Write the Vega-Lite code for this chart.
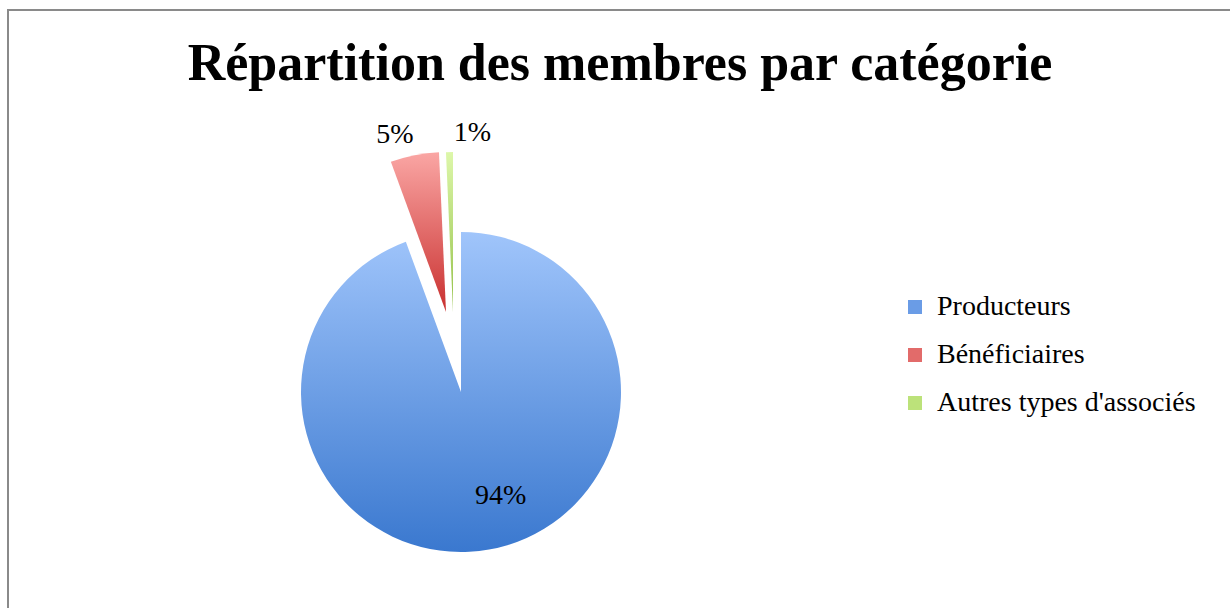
{
  "$schema": "https://vega.github.io/schema/vega-lite/v6.json",
  "autosize": "none",
  "width": 1232,
  "height": 602,
  "padding": {"left": 8, "top": 10, "right": 0, "bottom": 0},
  "background": "white",
  "view": {"stroke": "#8a8a8a", "strokeWidth": 2, "fill": "white"},
  "config": {"view": {"stroke": "#8a8a8a", "strokeWidth": 2}},
  "title": {
    "text": "Répartition des membres par catégorie",
    "font": "Liberation Serif",
    "fontSize": 52,
    "fontWeight": "bold",
    "color": "#000000",
    "anchor": "middle",
    "frame": "group",
    "offset": -81,
    "dx": -4
  },
  "data": {
    "values": [
      {"cat": "Producteurs", "pct": 0.944},
      {"cat": "Bénéficiaires", "pct": 0.049},
      {"cat": "Autres types d'associés", "pct": 0.007}
    ]
  },
  "encoding": {
    "theta": {"field": "pct", "type": "quantitative", "stack": true},
    "order": {"field": "pct", "type": "quantitative", "sort": "descending"}
  },
  "layer": [
    {
      "mark": {"type": "arc", "x": 453, "y": 382, "radius": 160, "opacity": 0},
      "encoding": {
        "color": {
          "field": "cat",
          "type": "nominal",
          "scale": {
            "domain": ["Producteurs", "Bénéficiaires", "Autres types d'associés"],
            "range": ["#6A9CE6", "#E26B6A", "#BCE27A"]
          },
          "legend": {
            "title": null,
            "orient": "none",
            "legendX": 893,
            "legendY": 283,
            "padding": 0,
            "symbolType": "square",
            "symbolSize": 196,
            "symbolStrokeWidth": 0,
            "symbolOpacity": 1,
            "labelFont": "Liberation Serif",
            "labelFontSize": 28,
            "labelColor": "#000000",
            "labelOffset": 8,
            "rowPadding": 20,
            "labelLimit": 400
          }
        }
      }
    },
    {
      "mark": {"type": "arc", "x": 453, "y": 382, "radius": 160,
        "fill": {"gradient": "linear", "x1": 0, "y1": 0, "x2": 0, "y2": 1, "stops": [{"offset": 0, "color": "#A0C5FB"}, {"offset": 1, "color": "#3A78CF"}]}},
      "encoding": {
        "opacity": {"condition": {"test": "datum.cat === 'Producteurs'", "value": 1}, "value": 0}
      }
    },
    {
      "mark": {"type": "arc", "x": 438, "y": 302, "radius": 160,
        "fill": {"gradient": "linear", "x1": 0, "y1": 0, "x2": 0, "y2": 1, "stops": [{"offset": 0, "color": "#FAA6A4"}, {"offset": 1, "color": "#C9302F"}]}},
      "encoding": {
        "opacity": {"condition": {"test": "datum.cat === 'Bénéficiaires'", "value": 1}, "value": 0}
      }
    },
    {
      "mark": {"type": "arc", "x": 445, "y": 302, "radius": 160,
        "fill": {"gradient": "linear", "x1": 0, "y1": 0, "x2": 0, "y2": 1, "stops": [{"offset": 0, "color": "#DDF7AA"}, {"offset": 1, "color": "#93C047"}]}},
      "encoding": {
        "opacity": {"condition": {"test": "datum.cat === \"Autres types d'associés\"", "value": 1}, "value": 0}
      }
    },
    {
      "mark": {"type": "text", "x": 453, "y": 382, "radius": 112, "dx": 20, "dy": -6, "font": "Liberation Serif", "fontSize": 28, "color": "#000000"},
      "encoding": {
        "text": {"field": "pct", "type": "quantitative", "format": ".0%"},
        "opacity": {"condition": {"test": "datum.cat === 'Producteurs'", "value": 1}, "value": 0}
      }
    },
    {
      "mark": {"type": "text", "x": 453, "y": 382, "radius": 260, "dx": -15, "dy": -2, "font": "Liberation Serif", "fontSize": 28, "color": "#000000"},
      "encoding": {
        "text": {"field": "pct", "type": "quantitative", "format": ".0%"},
        "opacity": {"condition": {"test": "datum.cat === 'Bénéficiaires'", "value": 1}, "value": 0}
      }
    },
    {
      "mark": {"type": "text", "x": 453, "y": 382, "radius": 257, "dx": 17, "dy": -2, "font": "Liberation Serif", "fontSize": 28, "color": "#000000"},
      "encoding": {
        "text": {"field": "pct", "type": "quantitative", "format": ".0%"},
        "opacity": {"condition": {"test": "datum.cat === \"Autres types d'associés\"", "value": 1}, "value": 0}
      }
    }
  ]
}
